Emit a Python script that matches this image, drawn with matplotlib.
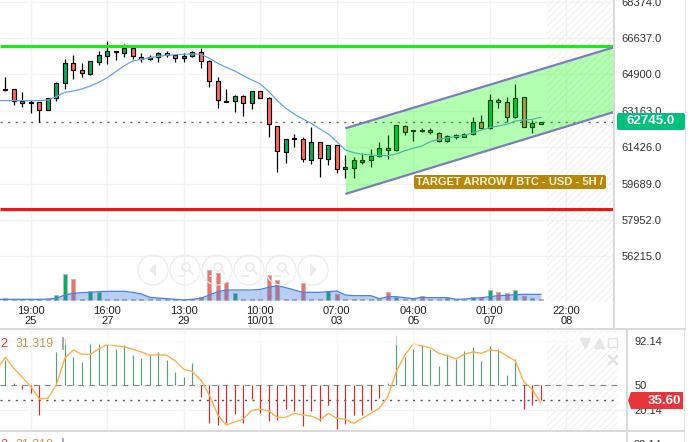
import numpy as np
import matplotlib
matplotlib.use('Agg')
import matplotlib.pyplot as plt
from matplotlib.patches import Circle, FancyBboxPatch, Polygon

plt.rcParams['font.family'] = ['Liberation Sans', 'DejaVu Sans']
plt.rcParams['hatch.linewidth'] = 0.6

# candles, one entry per 5h bar
opens = [64188, 64188, 63647, 63567, 63567, 63185, 63758, 64474, 65428, 65094, 64935, 65508, 65762, 65969, 65937, 66144,
         65715, 65619, 65746, 65937, 65810, 65667, 65778, 65985, 65524, 64569, 63647, 63615, 63854, 63519, 64092, 63758,
         62454, 61181, 61849, 61801, 60815, 61690, 60847, 61515, 60370, 60418, 60720, 60800, 61022, 61372, 61277, 62422,
         62231, 62231, 62231, 62120, 61706, 62024, 61929, 62072, 62629, 62327, 63663, 63567, 62867, 63806, 62406, 62549]
closes = [64156, 63647, 63519, 63535, 63185, 63758, 64474, 65428, 65094, 64951, 65524, 65810, 66001, 66001, 66144, 65762,
          65619, 65746, 65937, 65810, 65667, 65762, 65985, 65524, 64569, 63663, 63599, 63854, 63519, 64092, 63790, 62517,
          61229, 61833, 61801, 60847, 61690, 60895, 61515, 60386, 60465, 60800, 60800, 61022, 61372, 61277, 62470, 62168,
          62199, 62199, 62136, 61706, 61977, 61913, 62072, 62613, 62327, 63663, 63567, 62883, 63758, 62406, 62565, 62645]
highs = [64792, 64188, 64044, 63679, 63567, 63790, 64522, 65635, 65810, 65428, 65556, 66033, 66478, 66033, 66335, 66144,
         65906, 65826, 65985, 66033, 65842, 65937, 66033, 66144, 65587, 64760, 64188, 63901, 63901, 64124, 64124, 63838,
         62454, 61833, 62056, 61929, 62374, 61690, 61515, 61515, 61054, 60943, 61134, 61325, 61690, 62024, 62486, 62470,
         62247, 62327, 62343, 62136, 62024, 62056, 62104, 62883, 62947, 63949, 63758, 63806, 64426, 63806, 62724, 62645]
lows = [64124, 63456, 63360, 63042, 62645, 63185, 63647, 64219, 64697, 64792, 64887, 65365, 65412, 65587, 65746, 65635,
        65508, 65587, 65508, 65715, 65508, 65508, 65715, 65190, 64315, 63313, 63567, 63122, 62931, 63233, 63790, 61897,
        60227, 60688, 61420, 60736, 60608, 60020, 60593, 60211, 59940, 59972, 60609, 60497, 60975, 60879, 61261, 62024,
        61738, 62136, 62056, 61690, 61690, 61802, 61897, 62024, 62311, 62311, 63313, 62645, 62820, 62406, 62120, 62549]
# blue moving average, starts one bar before the first candle
price_ma = [63647, 63647, 63647, 63647, 63647, 63647, 63679, 63838, 64044, 64108, 64203, 64347, 64522, 64744, 65031, 65317,
            65540, 65619, 65699, 65762, 65810, 65842, 65858, 65874, 65858, 65667, 65428, 65237, 65062, 64840, 64633, 64442,
            64076, 63647, 63281, 63010, 62772, 62565, 62295, 62056, 61690, 61292, 61165, 61086, 61054, 61022, 61022, 61102,
            61261, 61372, 61484, 61690, 61802, 61881, 61929, 61993, 62104, 62247, 62358, 62438, 62518, 62677, 62724, 62756,
            62852]

volumes = [6, 3, 3, 3, 3, 3, 16, 78, 64, 3, 27, 23, 3, 3, 3, 3,
           3, 3, 3, 3, 3, 3, 3, 9, 90, 82, 55, 21, 4, 3, 3, 76,
           60, 3, 3, 52, 3, 3, 27, 18, 3, 3, 3, 3, 3, 25, 8, 3,
           3, 12, 3, 3, 5, 3, 3, 8, 8, 30, 24, 20, 30, 12, 6, 3]
volume_ma = [2, 2, 2, 2, 2, 2, 3, 5, 15, 20, 22, 23, 25, 26, 26, 26,
             23, 18, 8, 6, 4, 2, 0, 2, 5, 15, 25, 30, 30, 30, 30, 32,
             38, 43, 37, 30, 23, 23, 23, 25, 27, 15, 13, 13, 13, 4, 10, 10,
             7, 4, 8, 7, 7, 7, 2, 3, 5, 7, 10, 13, 14, 16, 17, 17, 17]

osc_hist = [74.3, 51.9, 46.1, 42.3, 21.2, 50, 81.7, 95.1, 76.9, 72.1, 90.3, 90.9, 89.3, 84.9, 89, 78.8,
            75.9, 79.1, 82.3, 74.3, 62.5, 57.7, 71.1, 38.5, 13.5, 11.6, 14.1, 22.1, 13.5, 36.5, 23.1, 15.4,
            16.7, 27, 25.7, 11, 25.3, 16, 30.8, 8.4, 12.5, 21.5, 21.5, 26.3, 37.5, 51.9, 98, 76.9,
            84.5, 88.7, 85.2, 68.5, 80.1, 75, 82.6, 87.1, 73.4, 88, 85.2, 59.6, 75, 27, 30.8, 35.9]
osc_line = [65.3, 76.9, 66.3, 57.7, 48.7, 36.9, 37.5, 50.3, 75.9, 83.9, 79.7, 79.7, 84.9, 89.3, 88, 86.8,
            84.5, 82, 78.8, 79.4, 78.8, 73.3, 65.3, 63.1, 55.1, 40.7, 21.5, 11.9, 14.8, 17.7, 26, 27,
            25.4, 19.3, 19.3, 23.1, 21.5, 20.5, 16.7, 23.1, 18.3, 17.3, 13.5, 18.3, 23.1, 27.9, 39.1, 63.1,
            79.1, 90, 87.7, 86.1, 80.7, 78.5, 75.3, 79.7, 82, 80.7, 83.9, 82.9, 78.5, 73.3, 53.5, 45.9, 33.1]

tick_bars = [3, 12, 21, 30, 39, 48, 57, 66]
tick_labels = ['19:00\n25', '16:00\n27', '13:00\n29', '10:00\n10/01', '07:00\n03', '04:00\n05', '01:00\n07', '22:00\n08']
price_ticks = [68374, 66637, 64900, 63163, 61426, 59689, 57952, 56215]

resistance = 66271
support = 58477
last_price = 62645
channel_x = [40, 71.6]
channel_top = [62327, 66192]
channel_bottom = [59193, 63106]

W, H = 692, 442
BAR_PX = 8.5
GRID = '#f2f2f2'
SEP = '#d9d9d9'
UP = '#00b060'
DOWN = '#ff6a5e'


def axes_px(x0, y0, x1, y1):
    return fig.add_axes([x0 / W, 1 - y1 / H, (x1 - x0) / W, (y1 - y0) / H])


def x_lim(right_px):
    return (0 - 5.33) / BAR_PX, (right_px - 5.33) / BAR_PX


fig = plt.figure(figsize=(W / 100, H / 100), dpi=100, facecolor='white')
bars = np.arange(len(opens))
bars_ma = np.arange(-1, len(opens))

# --- price panel
ax = axes_px(0, 0, 614, 302)
ax.set_xlim(*x_lim(614))
ax.set_ylim(54039, 68450)
for s in ax.spines.values():
    s.set_visible(False)
ax.set_axisbelow(True)
ax.grid(True, color=GRID, lw=1)
ax.set_yticks(price_ticks)
ax.set_yticklabels(['%.1f' % p for p in price_ticks], fontsize=8, color='#333333')
ax.set_xticks(tick_bars)
ax.set_xticklabels(tick_labels, fontsize=8, color='#222222', linespacing=0.95)
ax.axvspan(63.7, 71.6, facecolor='none', edgecolor='#ececec', hatch='/////', lw=0, zorder=0)

ax.hlines(last_price, *x_lim(614), color='#666666', lw=1, linestyles=(0, (1.5, 4)), zorder=1)
ax.vlines(bars, lows, highs, color='black', lw=0.9, zorder=2)
o = np.array(opens)
c = np.array(closes)
ax.bar(bars, np.abs(c - o), bottom=np.minimum(o, c), width=0.47,
       color=[UP if b >= a else DOWN for a, b in zip(opens, closes)], edgecolor='black', lw=0.85, zorder=3)
ax.plot(bars_ma, price_ma, color='#66a3ee', lw=0.9, zorder=4)

ax.hlines(resistance, *x_lim(614), color='#14f014', lw=2.2, zorder=5)
ax.hlines(support, *x_lim(614), color='#ff1010', lw=2.2, zorder=5)

ax.fill_between(channel_x, channel_bottom, channel_top, color='#00ff00', alpha=0.3, lw=0, zorder=6)
ax.plot(channel_x, channel_top, color='#7d7dbd', lw=1.6, zorder=7, solid_capstyle='butt')
ax.plot(channel_x, channel_bottom, color='#7d7dbd', lw=1.6, zorder=7, solid_capstyle='butt')

# --- volume sits in the bottom of the price panel
vol = ax.twinx()
vol.set_ylim(-6, 900)
vol.axis('off')
vol.bar(bars, volumes, width=0.45, color=[UP if b >= a else DOWN for a, b in zip(opens, closes)],
        edgecolor='#bbbbbb', lw=0.8, zorder=2)
vol.fill_between(bars_ma, 0, volume_ma, color='#3a78e0', alpha=0.36, lw=0, zorder=3)
vol.plot(bars_ma, volume_ma, color='#4a80e0', lw=0.9, zorder=4)

# twinx puts the price axis back on the left
ax.yaxis.tick_right()
ax.tick_params(axis='both', length=0)
ax.tick_params(axis='y', pad=5.5)
ax.tick_params(axis='x', pad=3)

# --- oscillator panel
osc = axes_px(0, 331, 627, 430)
osc.set_xlim(*x_lim(627))
osc.set_ylim(7.1, 102.1)
for s in osc.spines.values():
    s.set_visible(False)
osc.set_axisbelow(True)
osc.set_xticks(tick_bars)
osc.set_xticklabels([])
osc.yaxis.tick_right()
osc.set_yticks([92.14, 50, 26.4])
osc.set_yticklabels(['92.14', '50', '20.14'], fontsize=8, color='#333333')
osc.tick_params(axis='both', length=0)
osc.tick_params(axis='y', pad=5.5)
osc.grid(True, color=GRID, lw=1)
osc.axvspan(63.7, 72.1, facecolor='none', edgecolor='#ececec', hatch='/////', lw=0, zorder=0)
osc.hlines(50, -0.6, 72.1, color='#888888', lw=0.8, linestyles=(0, (5, 5)), zorder=1)
osc.hlines(35.6, -0.6, 72.1, color='#555555', lw=1, linestyles=(0, (1.5, 4)), zorder=1)
osc.vlines(bars, 50, osc_hist, color=['#5c9e78' if v >= 50 else '#e8242c' for v in osc_hist], lw=0.85, zorder=2)
osc.plot(bars_ma, osc_line, color='#ffb04d', lw=1, zorder=3)
osc.axhspan(88.5, 100, color='white', alpha=0.6, lw=0, zorder=4)

# --- frame, labels, buttons (pixel overlay)
top = fig.add_axes([0, 0, 1, 1], zorder=10)
top.set_xlim(0, W)
top.set_ylim(H, 0)
top.axis('off')
top.patch.set_alpha(0)

top.plot([614, 614], [0, 329], color=SEP, lw=1.4)
top.plot([685, 685], [0, 329], color='#e4e4e4', lw=0.8)
top.plot([0, 685], [329, 329], color=SEP, lw=1.4)
top.plot([627, 627], [330, 442], color=SEP, lw=1.4)
top.plot([683.5, 683.5], [330, 442], color='#e4e4e4', lw=0.8)
top.plot([0, 684], [431, 431], color=SEP, lw=1.4)

top.add_patch(FancyBboxPatch((617, 113), 68, 17, boxstyle='round,pad=0,rounding_size=2', fc='#00c07c', ec='none'))
top.text(651, 121, '62745.0', color='white', fontsize=9.5, fontweight='bold', ha='center', va='center')

top.add_patch(FancyBboxPatch((414, 175), 192, 14, boxstyle='round,pad=0,rounding_size=2', fc='#b8860b', ec='none'))
top.text(509.5, 182, 'TARGET ARROW / BTC - USD - 5H /', color='#fff6e0', fontsize=8, fontweight='bold', ha='center', va='center')

top.add_patch(Polygon([(628, 400.5), (631, 392), (683, 392), (683, 409), (631, 409)], closed=True, fc='#e8343a', ec='none'))
top.text(664, 400.5, '35.60', color='white', fontsize=9.5, fontweight='bold', ha='center', va='center')

for y in (344, 445):
    top.text(0, y, '2', color='#e8343a', fontsize=9, va='center')
    top.text(16, y, '31.319', color='#c9964e', fontsize=9, va='center')
    top.plot([63, 63], [y - 6, y + 5], color='#999999', lw=1.2)
top.text(634, 445, '92.14', color='#333333', fontsize=8, va='center')

btn_x = [153, 185, 217, 249, 281, 313]
BTN = '#ececec'
for bx in btn_x:
    top.add_patch(Circle((bx, 270), 15, fc='none', ec=BTN, lw=0.9))
top.add_patch(Polygon([(149, 270), (156, 263), (156, 277)], closed=True, fc=BTN, ec='none'))
top.add_patch(Polygon([(317, 270), (310, 263), (310, 277)], closed=True, fc=BTN, ec='none'))
for bx in btn_x[1:5]:
    top.add_patch(Circle((bx + 1, 267), 4, fc='none', ec=BTN, lw=1.2))
    top.plot([bx + 4, bx + 8], [270, 274], color=BTN, lw=1.4)
    top.plot([bx - 7, bx - 1], [276, 276], color=BTN, lw=1.2)

top.plot([585], [343], marker='v', ms=7, color='#e6e6e6')
top.plot([599], [343], marker='^', ms=7, color='#e6e6e6')
top.add_patch(plt.Rectangle((608, 338), 9, 9, fc='none', ec='#e2e2e2', lw=1))
top.plot([609, 617], [356, 364], color='#e2e2e2', lw=1.8)
top.plot([609, 617], [364, 356], color='#e2e2e2', lw=1.8)

fig.savefig('out.png', dpi=100)
